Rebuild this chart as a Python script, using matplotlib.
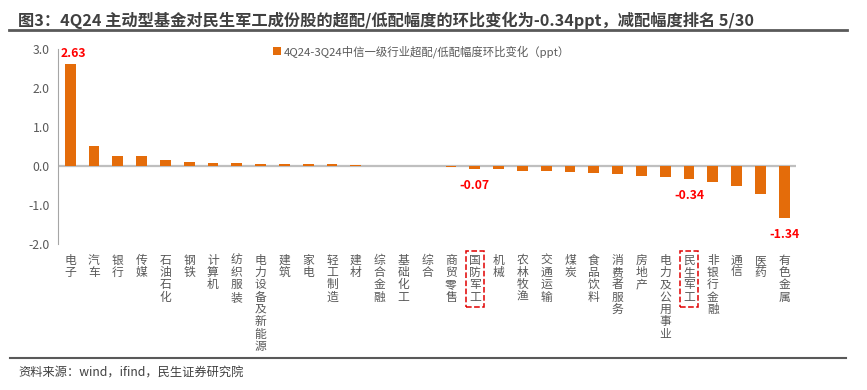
import matplotlib
matplotlib.use("Agg")
import matplotlib.pyplot as plt
from matplotlib.patches import Patch
from matplotlib.lines import Line2D

plt.rcParams['font.family'] = ['Noto Sans CJK SC', 'DejaVu Sans']
plt.rcParams['axes.unicode_minus'] = False

industries = ['电子', '汽车', '银行', '传媒', '石油石化', '钢铁', '计算机', '纺织服装',
              '电力设备及新能源', '建筑', '家电', '轻工制造', '建材', '综合金融', '基础化工',
              '综合', '商贸零售', '国防军工', '机械', '农林牧渔', '交通运输', '煤炭', '食品饮料',
              '消费者服务', '房地产', '电力及公用事业', '民生军工', '非银行金融', '通信', '医药',
              '有色金属']
changes = [2.63, 0.52, 0.26, 0.25, 0.15, 0.10, 0.077, 0.068, 0.06, 0.051, 0.051, 0.043,
           0.026, 0.01, 0.008, 0.005, -0.02, -0.07, -0.085, -0.13, -0.135, -0.145, -0.17,
           -0.20, -0.26, -0.28, -0.34, -0.41, -0.50, -0.71, -1.34]
labelled = {'电子': 2.63, '国防军工': -0.07, '民生军工': -0.34, '有色金属': -1.34}
boxed = ['国防军工', '民生军工']

title = '图3：4Q24 主动型基金对民生军工成份股的超配/低配幅度的环比变化为-0.34ppt，减配幅度排名 5/30'
legend_label = '4Q24-3Q24中信一级行业超配/低配幅度环比变化（ppt）'
source = '资料来源：wind，ifind，民生证券研究院'

bar_color = '#E46C0A'
gray = '#595959'

fig = plt.figure(figsize=(8.67, 3.9), dpi=100)
ax = fig.add_axes([0.0672, 0.3744, 0.851, 0.4992])

x = list(range(len(industries)))
ax.bar(x, changes, width=0.45, color=bar_color, zorder=2)
ax.axhline(0, color='#BFBFBF', lw=1.6, zorder=1)

ax.set_xlim(-0.5, len(industries) - 0.5)
ax.set_ylim(-2, 3)
ax.set_yticks([-2, -1, 0, 1, 2, 3])
ax.set_yticklabels(['-2.0', '-1.0', '0.0', '1.0', '2.0', '3.0'])
ax.tick_params(axis='y', length=0, labelsize=8.8, labelcolor=gray, pad=6)

ax.set_xticks(x)
ax.set_xticklabels(['\n'.join(n) for n in industries], fontsize=8.5,
                   color=gray, va='top', linespacing=0.93)
ax.tick_params(axis='x', length=0, pad=7)
for lab in ax.get_xticklabels():
    if lab.get_text().replace('\n', '') in boxed:
        lab.set_bbox(dict(boxstyle='square,pad=0.25', fc='none', ec='#E00000',
                          ls='--', lw=1.1))

for s in ['top', 'right', 'bottom']:
    ax.spines[s].set_visible(False)
ax.spines['left'].set_color('#A6A6A6')

for name, val in labelled.items():
    i = industries.index(name)
    if val > 0:
        ax.annotate(f'{val:.2f}', (i, val), xytext=(2, 3), textcoords='offset points',
                    ha='center', va='bottom', color='#FF0000', fontsize=8.8,
                    fontweight='bold')
    else:
        ax.annotate(f'{val:.2f}', (i, val), xytext=(0, -7), textcoords='offset points',
                    ha='center', va='top', color='#FF0000', fontsize=8.8,
                    fontweight='bold')

handle = Patch(facecolor=bar_color, edgecolor='none')
fig.legend([handle], [legend_label], loc='center', bbox_to_anchor=(0.486, 0.868),
           frameon=False, fontsize=8.2, labelcolor=gray, handlelength=0.7,
           handleheight=0.7, handletextpad=0.3)

fig.text(0.021, 0.947, title, fontsize=11.7, fontweight='bold', color='#404040',
         va='center', ha='left')
fig.add_artist(Line2D([0.010, 0.977], [0.922, 0.922], color='#595959', lw=2.0))
fig.add_artist(Line2D([0.012, 0.976], [0.082, 0.082], color='#595959', lw=1.5))
fig.text(0.021, 0.044, source, fontsize=8.8, color='#404040', va='center', ha='left')

fig.savefig('out.png', dpi=100)
